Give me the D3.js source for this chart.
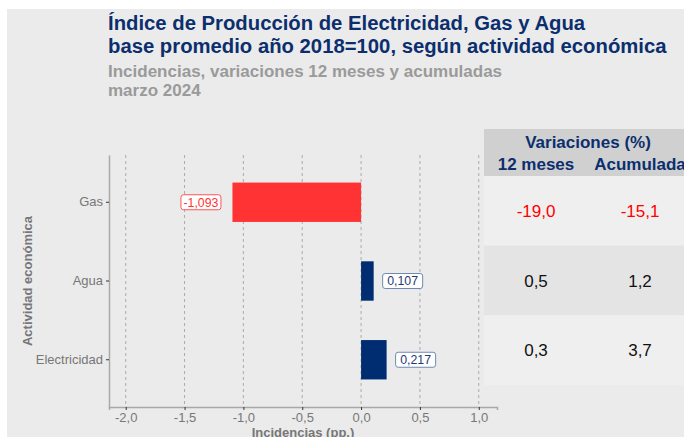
<!DOCTYPE html>
<html><head><meta charset="utf-8">
<script src="https://cdn.jsdelivr.net/npm/d3@7"></script>
<style>body{margin:0;background:#fff}svg{display:block;font-family:"Liberation Sans",Arial,sans-serif}</style>
</head><body>
<svg id="c" width="684" height="437"></svg>
<script>
const categories = ["Gas", "Agua", "Electricidad"];
const incidencias = [-1.093, 0.107, 0.217];
const var12 = [-19.0, 0.5, 0.3];
const acumulada = [-15.1, 1.2, 3.7];
const xTicks = [-2.0, -1.5, -1.0, -0.5, 0.0, 0.5, 1.0];
const titleLines = ["Índice de Producción de Electricidad, Gas y Agua", "base promedio año 2018=100, según actividad económica"];
const subtitleLines = ["Incidencias, variaciones 12 meses y acumuladas", "marzo 2024"];
const tableHeader = ["Variaciones (%)", "12 meses", "Acumulada"];

const loc = d3.formatLocale({decimal: ",", thousands: ".", grouping: [3], currency: ["", ""], minus: "-"});
const f1 = loc.format(".1f"), f3 = loc.format(".3f");

const svg = d3.select("#c");
const navy = "#0b2f6e", red = "#ff3333", blue = "#002d72";

svg.append("rect").attr("x", 7).attr("y", 9).attr("width", 677).attr("height", 428).attr("fill", "#ebebeb");

// titles
const tt = svg.append("text").attr("fill", navy).attr("font-weight", "bold").attr("font-size", 20.3);
titleLines.forEach((t, i) => tt.append("tspan").attr("x", 108).attr("y", 30 + i * 23).text(t));
const st = svg.append("text").attr("fill", "#9a9a9a").attr("font-weight", "bold").attr("font-size", 17);
subtitleLines.forEach((t, i) => st.append("tspan").attr("x", 108).attr("y", 77 + i * 19).text(t));

// scales
const x = d3.scaleLinear().domain([-2.142, 1.155]).range([109, 497]);
const y = d3.scaleBand().domain(categories).range([155, 407]).paddingInner(0.5).paddingOuter(0.35);

// grid
svg.append("g").selectAll("line").data(xTicks).join("line")
  .attr("x1", d => x(d)).attr("x2", d => x(d)).attr("y1", 155).attr("y2", 407)
  .attr("stroke", "#9a9a9a").attr("stroke-width", 0.8).attr("stroke-dasharray", "3,3");

// bars
svg.append("g").selectAll("rect").data(incidencias).join("rect")
  .attr("x", d => x(Math.min(0, d))).attr("width", d => Math.abs(x(d) - x(0)))
  .attr("y", (d, i) => y(categories[i])).attr("height", y.bandwidth())
  .attr("fill", d => d < 0 ? red : blue);

// labels
const lg = svg.append("g").selectAll("g").data(incidencias).join("g")
  .attr("transform", (d, i) => `translate(${x(d) + (d < 0 ? -31.5 : 29)},${y(categories[i]) + y.bandwidth() / 2})`);
lg.append("rect").attr("x", -20).attr("y", -7.5).attr("width", 40).attr("height", 15).attr("rx", 2.5)
  .attr("fill", "#fff").attr("stroke", d => d < 0 ? "#ff5555" : "#7089b0").attr("stroke-width", 1);
lg.append("text").attr("text-anchor", "middle").attr("dy", 4.3).attr("font-size", 12.3)
  .attr("fill", d => d < 0 ? red : "#1f3a73").text(d => f3(d));

// axes
const xa = svg.append("g").attr("transform", "translate(0,407)")
  .call(d3.axisBottom(x).tickValues(xTicks).tickSize(3).tickFormat(d => f1(d)));
xa.select(".domain").attr("stroke", "#a8a8a8").attr("stroke-width", 1.5);
xa.selectAll(".tick line").attr("stroke", "#333");
xa.selectAll(".tick text").attr("fill", "#777").attr("font-size", 13).attr("dy", "0.66em").attr("font-family", "Liberation Sans, Arial, sans-serif");

const ya = svg.append("g").attr("transform", "translate(109,0)")
  .call(d3.axisLeft(y).tickSize(3).tickSizeOuter(0));
ya.select(".domain").attr("stroke", "#a8a8a8").attr("stroke-width", 1.5);
ya.selectAll(".tick line").attr("stroke", "#333");
ya.selectAll(".tick text").attr("fill", "#777").attr("font-size", 13).attr("font-family", "Liberation Sans, Arial, sans-serif");

svg.append("text").attr("x", 303).attr("y", 437).attr("text-anchor", "middle").attr("font-weight", "bold")
  .attr("font-size", 13).attr("fill", "#777").text("Incidencias (pp.)");
svg.append("text").attr("transform", "translate(32,281) rotate(-90)").attr("text-anchor", "middle").attr("font-weight", "bold")
  .attr("font-size", 13).attr("fill", "#777").text("Actividad económica");

// table
const ty = d3.scaleBand().domain(categories).range([176, 385]);
const cx = [536, 640];
svg.append("rect").attr("x", 484).attr("y", 129).attr("width", 200).attr("height", 47).attr("fill", "#d0d0d0");
svg.append("g").selectAll("rect").data(categories).join("rect")
  .attr("x", 484).attr("width", 200).attr("y", d => ty(d)).attr("height", ty.bandwidth())
  .attr("fill", (d, i) => i % 2 ? "#e4e4e4" : "#efefef");
svg.append("text").attr("x", 588).attr("y", 148).attr("text-anchor", "middle").attr("font-weight", "bold")
  .attr("font-size", 17).attr("fill", navy).text(tableHeader[0]);
[tableHeader[1], tableHeader[2]].forEach((h, j) => svg.append("text").attr("x", cx[j]).attr("y", 170)
  .attr("text-anchor", "middle").attr("font-weight", "bold").attr("font-size", 17).attr("fill", navy).text(h));
[var12, acumulada].forEach((arr, j) => {
  svg.append("g").selectAll("text").data(arr).join("text")
    .attr("x", cx[j]).attr("y", (d, i) => ty(categories[i]) + ty.bandwidth() / 2 + 6)
    .attr("text-anchor", "middle").attr("font-size", 17)
    .attr("fill", d => d < 0 ? "#ff0000" : "#111").text(d => f1(d));
});
</script>
</body></html>
